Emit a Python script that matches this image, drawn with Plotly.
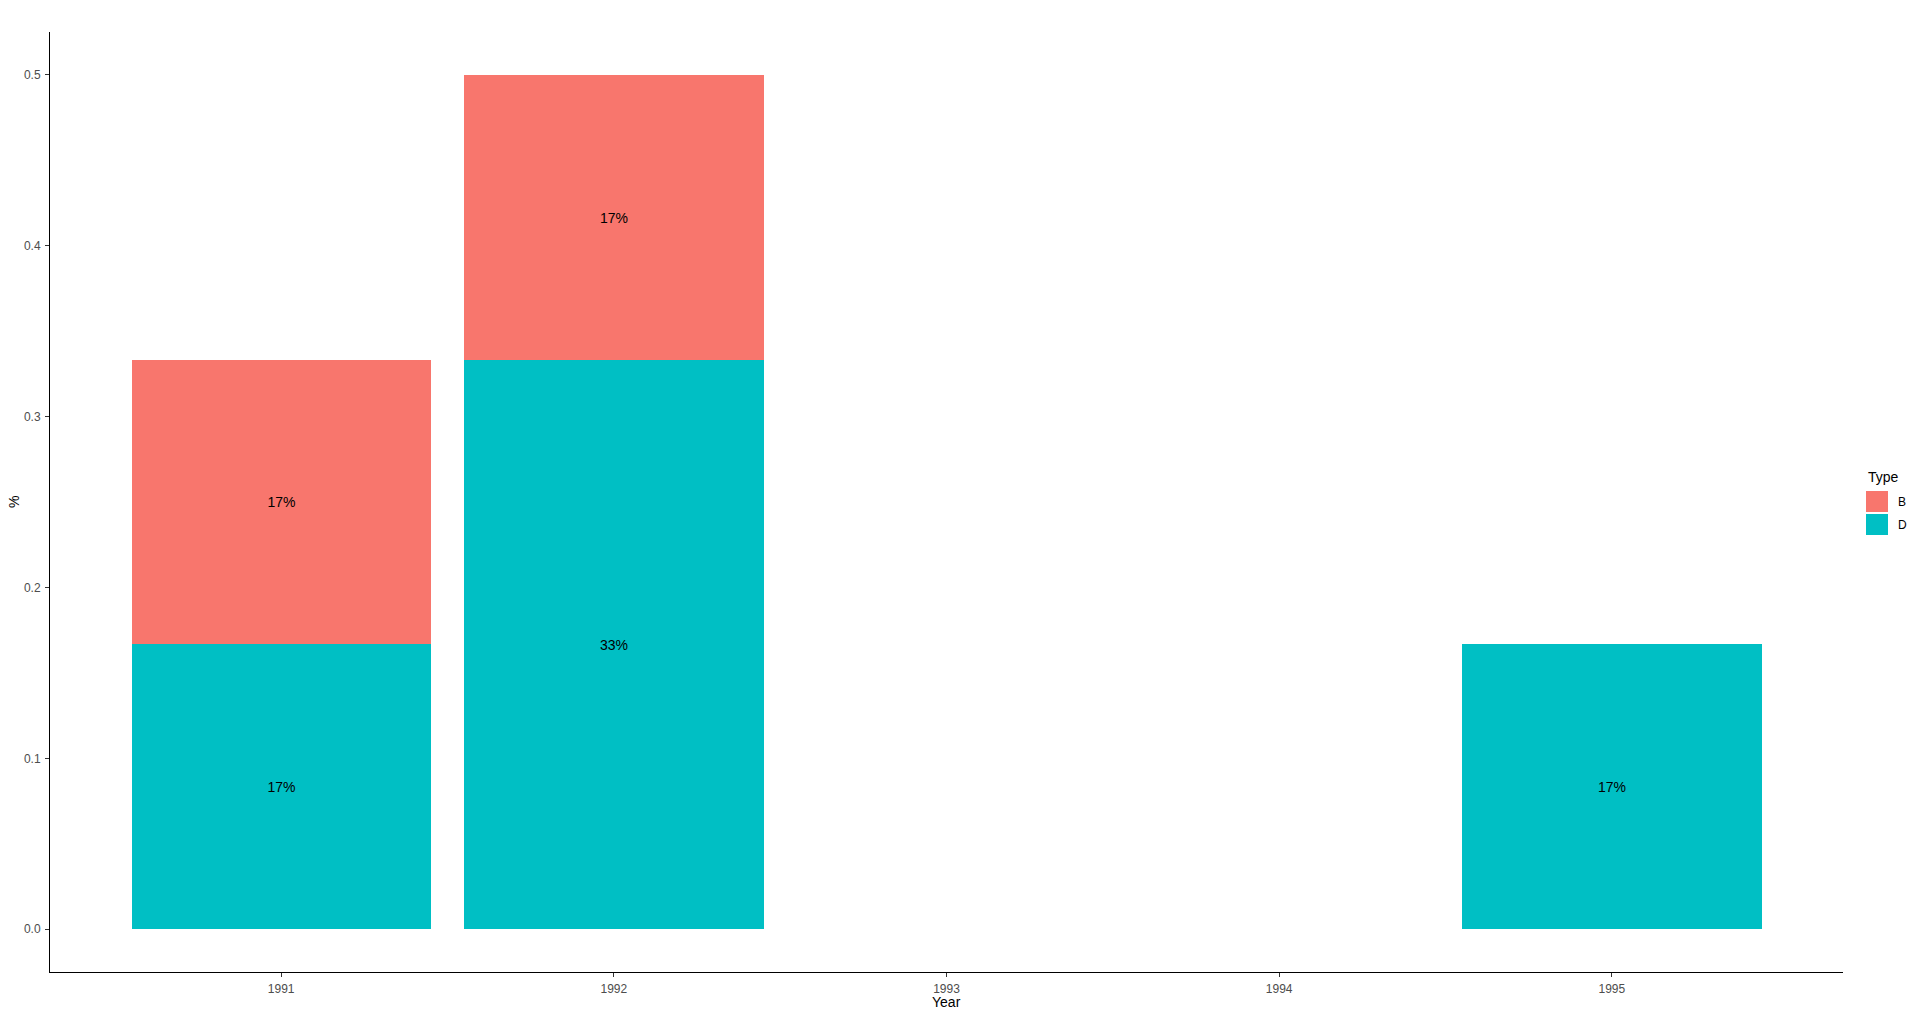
import plotly.graph_objects as go

years = [1991, 1992, 1993, 1994, 1995]
b_years = [1991, 1992]
b_vals = [1/6, 1/6]
d_years = [1991, 1992, 1995]
d_vals = [1/6, 2/6, 1/6]
y_ticks = [0.0, 0.1, 0.2, 0.3, 0.4, 0.5]
types = ["B", "D"]
colors = {"B": "#F8766D", "D": "#00BFC4"}

FONT = "Liberation Sans, Arial, sans-serif"

def lab(vals):
    return [f"{round(v*100)}%" for v in vals]

fig = go.Figure()
fig.add_trace(go.Bar(x=d_years, y=d_vals, width=0.9, marker=dict(color=colors["D"], line=dict(width=0)),
                     text=lab(d_vals), textposition="inside", insidetextanchor="middle",
                     textfont=dict(family=FONT, size=14, color="black"), showlegend=False,
                     constraintext="none", textangle=0))
fig.add_trace(go.Bar(x=b_years, y=b_vals, width=0.9, marker=dict(color=colors["B"], line=dict(width=0)),
                     text=lab(b_vals), textposition="inside", insidetextanchor="middle",
                     textfont=dict(family=FONT, size=14, color="black"), showlegend=False,
                     constraintext="none", textangle=0))

L, R, T, B = 50, 77, 32, 45
W, H = 1920, 1017
pw, ph = W - L - R, H - T - B

def px_x(x):
    return (x - L) / pw

def px_y(y):
    return (H - B - y) / ph

annotations = [
    dict(text="Year", x=0.5, y=px_y(1002), xref="paper", yref="paper", showarrow=False,
         xanchor="center", yanchor="middle", font=dict(family=FONT, size=14, color="black")),
    dict(text="%", x=px_x(14), y=0.5, xref="paper", yref="paper", showarrow=False, textangle=-90,
         xanchor="center", yanchor="middle", font=dict(family=FONT, size=14, color="black")),
    dict(text="Type", x=px_x(1866), y=px_y(477), xref="paper", yref="paper", showarrow=False,
         xanchor="left", yanchor="middle", font=dict(family=FONT, size=14, color="black")),
]
shapes = []
rows = [(491, 512), (514, 535)]
for t, (y0, y1) in zip(types, rows):
    shapes.append(dict(type="rect", xref="paper", yref="paper", x0=px_x(1866), x1=px_x(1888),
                       y0=px_y(y1), y1=px_y(y0), fillcolor=colors[t], line=dict(width=0)))
    annotations.append(dict(text=t, x=px_x(1896), y=px_y((y0 + y1) / 2), xref="paper", yref="paper",
                            showarrow=False, xanchor="left", yanchor="middle",
                            font=dict(family=FONT, size=12, color="black")))

fig.update_layout(
    width=W, height=H, autosize=False,
    margin=dict(l=L, r=R, t=T, b=B, pad=0),
    plot_bgcolor="white", paper_bgcolor="white",
    barmode="stack", bargap=0,
    font=dict(family=FONT),
    showlegend=False,
    annotations=annotations, shapes=shapes,
    xaxis=dict(range=[1990.305, 1995.695], tickvals=years, ticktext=[str(y) for y in years],
               showgrid=False, zeroline=False, showline=True, linecolor="black", linewidth=1,
               ticks="outside", ticklen=4, tickcolor="#333333", tickwidth=1,
               tickfont=dict(family=FONT, size=12, color="#4D4D4D"), ticklabelstandoff=2),
    yaxis=dict(range=[-0.025, 0.525], tickvals=y_ticks, ticktext=[f"{v:.1f}" for v in y_ticks],
               showgrid=False, zeroline=False, showline=True, linecolor="black", linewidth=1,
               ticks="outside", ticklen=4, tickcolor="#333333", tickwidth=1,
               tickfont=dict(family=FONT, size=12, color="#4D4D4D"), ticklabelstandoff=2),
)

fig.write_html("out.html")
